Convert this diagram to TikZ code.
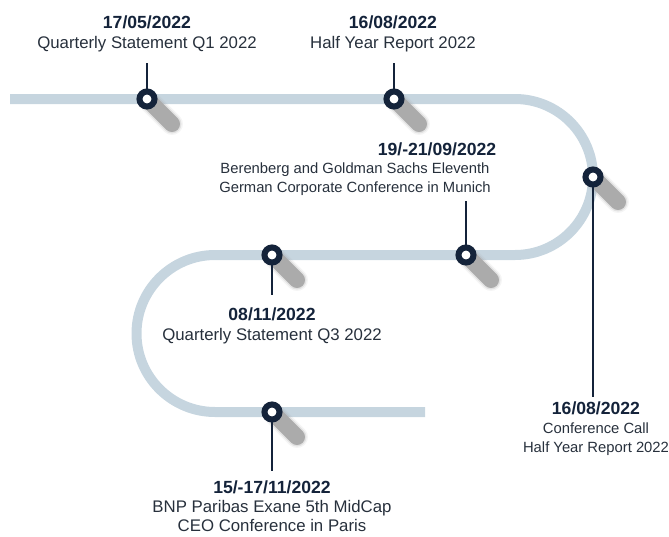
\documentclass[tikz,border=0pt]{standalone}
\usepackage{fontspec}
\setmainfont{Liberation Sans}
\definecolor{trackblue}{HTML}{C6D5DF}
\definecolor{navy}{HTML}{14233A}
\definecolor{ink}{HTML}{27303C}
\definecolor{shadowgrey}{HTML}{ABABAB}
\newcommand{\evdate}[1]{{\fontsize{17.6}{20}\selectfont\bfseries\color{navy}#1}}

\begin{document}
\begin{tikzpicture}[
  x=1pt,
  y=1pt,
  track/.style={
    draw=trackblue,
    line width=10pt
  },
  stem/.style={
    draw=navy,
    line width=2.2pt
  },
  ring/.style={
    draw=navy,
    fill=white,
    line width=6pt
  },
  blur/.style={
    draw=shadowgrey,
    line cap=round
  },
  eventtext/.style={
    align=center,
    inner sep=0pt,
    anchor=north,
    text=ink,
    font=\fontsize{16.8}{20}\selectfont
  },
  smalltext/.style={
    eventtext,
    font=\fontsize{14.8}{19}\selectfont
  },
]
\useasboundingbox (0,0) rectangle (669,-536);

% the winding road
\draw[track] (10,-99) -- (515,-99)
  arc[start angle=90, end angle=-90, radius=78pt] -- (215,-255)
  arc[start angle=90, end angle=270, radius=78.5pt] -- (425,-412);

% stops on the road
\coordinate (m1) at (147,-99);
\coordinate (m2) at (394,-99);
\coordinate (m3) at (593,-177);
\coordinate (m4) at (466,-255);
\coordinate (m5) at (272,-255);
\coordinate (m6) at (272,-412);

% texts
\node[eventtext] (t1) at (147,-16) {\evdate{17/05/2022}\\Quarterly Statement Q1 2022};
\node[eventtext] (t2) at (393,-16) {\evdate{16/08/2022}\\Half Year Report 2022};
\node[eventtext] (t3d) at (437,-142.5) {\evdate{19/-21/09/2022}};
\node[smalltext] (t3) at (355,-162.5) {Berenberg and Goldman Sachs Eleventh\\German Corporate Conference in Munich};
\node[smalltext] (t4) at (596,-402) {\evdate{16/08/2022}\\Conference Call\\Half Year Report 2022};
\node[eventtext] (t5) at (272,-308) {\evdate{08/11/2022}\\Quarterly Statement Q3 2022};
\node[eventtext, font=\fontsize{16.8}{19}\selectfont] (t6) at (272,-481) {\evdate{15/-17/11/2022}\\BNP Paribas Exane 5th MidCap\\CEO Conference in Paris};

% shadows
\foreach \m in {m1,m2,m3,m4,m5,m6}{
  \draw[blur, line width=22pt, opacity=.12] (\m) -- ++(25,-25);
  \draw[blur, line width=19pt, opacity=.25] (\m) -- ++(25,-25);
  \draw[blur, line width=16pt] (\m) -- ++(25,-25);
}

% stems
\draw[stem, shorten >=10.5pt] (m1) -- (m1 |- t1.south);
\draw[stem, shorten >=10.5pt] (m2) -- (m2 |- t2.south);
\draw[stem, shorten >=5pt] (m4) -- (m4 |- t3.south);
\draw[stem, shorten >=5pt] (m3) -- (m3 |- t4.north);
\draw[stem, shorten >=13pt] (m5) -- (m5 |- t5.north);
\draw[stem, shorten >=10pt] (m6) -- (m6 |- t6.north);

\foreach \m in {m1,m2,m3,m4,m5,m6}
  \draw[ring] (\m) circle[radius=7.5pt];
\end{tikzpicture}
\end{document}
